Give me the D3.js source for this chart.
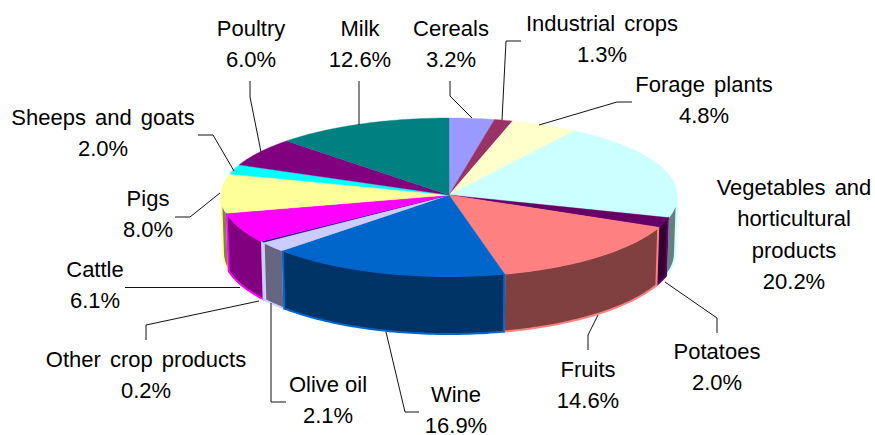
<!DOCTYPE html>
<html lang="en">
<head>
    <meta charset="UTF-8">
    <title>Agricultural production</title>
    <script src="https://d3js.org/d3.v7.min.js"></script>
    <style>
        html, body { margin: 0; padding: 0; background: #fff; }
        svg { display: block; }
        .label { font: 22px "Liberation Sans", Arial, sans-serif; fill: #000; text-anchor: middle; word-spacing: 3px; }
        .leader { fill: none; stroke: #111; stroke-width: 1; }
    </style>
</head>
<body>
    <svg width="875" height="435"></svg>
    <script>
        const categories = ["Cereals", "Industrial crops", "Forage plants", "Vegetables and horticultural products",
            "Potatoes", "Fruits", "Wine", "Olive oil", "Other crop products", "Cattle", "Pigs",
            "Sheeps and goats", "Poultry", "Milk"];
        const values = [3.2, 1.3, 4.8, 20.2, 2.0, 14.6, 16.9, 2.1, 0.2, 6.1, 8.0, 2.0, 6.0, 12.6];
        const colors = ["#9999ff", "#993366", "#ffffcc", "#ccffff", "#660066", "#ff8080", "#0066cc",
            "#ccccff", "#000080", "#ff00ff", "#ffff99", "#00ffff", "#800080", "#008080"];

        // label placement: centre x, first baseline, wrapped lines
        const labelX = [451, 602, 704, 794, 717, 588, 456, 328, 146, 95, 148, 103, 251, 360];
        const labelY = [36, 31, 92, 195, 359, 377, 402, 392, 367, 277, 206, 125, 36, 36];
        const labelLines = {3: ["Vegetables and", "horticultural", "products"]};
        const lineGap = 31.3;

        // leader lines, one polyline per label (none for vegetables)
        const leaders = [
            [[450, 81], [450, 96], [472, 118]],
            [[521, 41], [506, 41], [502, 120]],
            [[632, 102], [617, 102], [539, 125]],
            null,
            [[717, 333], [717, 318], [665, 282]],
            [[588, 350], [588, 335], [598, 315]],
            [[419, 412], [405, 412], [386, 332]],
            [[286, 402], [271, 402], [271, 303]],
            [[146, 340], [146, 325], [259, 301]],
            [[125, 287.5], [240, 287.5]],
            [[175, 217], [190, 217], [220, 193]],
            [[198, 135], [213, 135], [234, 171]],
            [[250, 81], [250, 97], [261, 152]],
            [[359, 81], [359, 125]]
        ];

        const svg = d3.select("svg");
        const cx = 449, cy = 195, depth = 58;

        const slices = d3.pie().sort(null)(values).map((d, i) => ({...d, i}));

        // top ellipse is a little flatter behind the centre than in front of it
        const topPoint = a => [cx + 228 * Math.sin(a), cy - (Math.cos(a) > 0 ? 77 : 81) * Math.cos(a)];
        const bottomPoint = a => [cx + 226 * Math.sin(a), cy + depth - (Math.cos(a) > 0 ? 77 : 81) * Math.cos(a)];

        const arcAngles = (a0, a1) => {
            const n = Math.max(2, Math.ceil((a1 - a0) / 0.02));
            return d3.range(n + 1).map(k => a0 + (a1 - a0) * k / n);
        };
        const line = d3.line();
        const half = c => { const r = d3.rgb(c); return d3.rgb(r.r / 2, r.g / 2, r.b / 2).formatHex(); };
        // the 0.2% wall is too thin to show its own navy, it reads as the olive edge
        const wallColor = i => i === 8 ? colors[7] : colors[i];

        // outer wall, only the front half is visible, drawn back to front
        const front = slices
            .map(d => ({...d, a0: Math.max(d.startAngle, Math.PI / 2), a1: Math.min(d.endAngle, Math.PI * 1.5)}))
            .filter(d => d.a1 > d.a0)
            .sort((p, q) => Math.abs((q.a0 + q.a1) / 2 - Math.PI) - Math.abs((p.a0 + p.a1) / 2 - Math.PI));

        svg.append("g").selectAll("path")
            .data(front)
            .join("path")
            .attr("d", d => line([
                ...arcAngles(d.a0, d.a1).map(topPoint),
                ...arcAngles(d.a0, d.a1).reverse().map(bottomPoint)
            ]) + "Z")
            .attr("fill", d => half(wallColor(d.i)))
            .attr("stroke", d => wallColor(d.i))
            .attr("stroke-width", 2);

        svg.append("g").selectAll("path")
            .data(slices)
            .join("path")
            .attr("d", d => line([[cx, cy], ...arcAngles(d.startAngle, d.endAngle).map(topPoint)]) + "Z")
            .attr("fill", d => colors[d.i])
            .attr("stroke", d => colors[d.i])
            .attr("stroke-width", 0.4);

        svg.append("g").selectAll("path")
            .data(leaders.filter(d => d))
            .join("path")
            .attr("class", "leader")
            .attr("d", d => line(d));

        const labels = svg.append("g").selectAll("text")
            .data(categories)
            .join("text")
            .attr("class", "label")
            .style("word-spacing", (d, i) => i === 7 ? "0" : null)
            .attr("y", (d, i) => labelY[i]);

        labels.each(function (d, i) {
            const rows = [...(labelLines[i] || [d]), values[i].toFixed(1) + "%"];
            d3.select(this).selectAll("tspan")
                .data(rows)
                .join("tspan")
                .attr("x", labelX[i])
                .attr("y", (r, k) => labelY[i] + k * lineGap)
                .text(r => r);
        });
    </script>
</body>
</html>
